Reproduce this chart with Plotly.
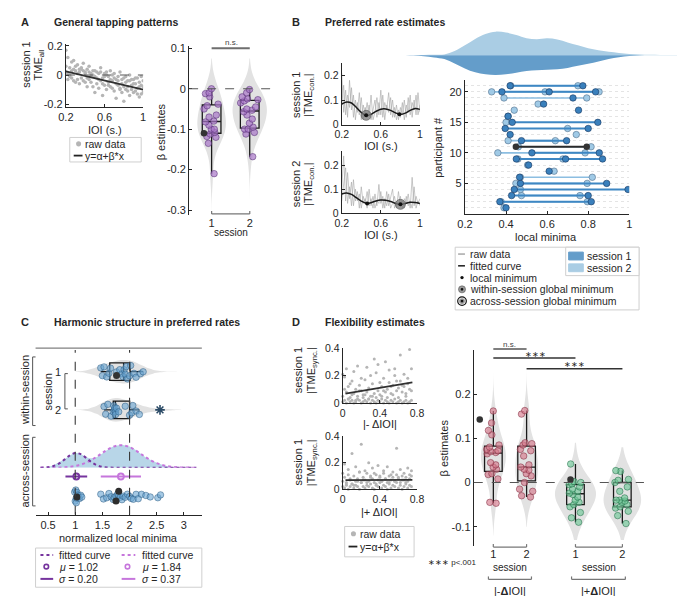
import plotly.graph_objects as go

W, H = 685, 596
TXT = '#262626'
AX = '#262626'
FONT = 'Liberation Sans, Arial, Helvetica, sans-serif'

# ======================= DATA =======================
# ---- Panel A: general tapping patterns ----
A_ioi = [0.20, 0.22, 0.24, 0.26, 0.28, 0.30, 0.32, 0.34, 0.36, 0.38, 0.40, 0.42, 0.44, 0.46,
         0.48, 0.50, 0.52, 0.54, 0.56, 0.58, 0.60, 0.62, 0.64, 0.66, 0.68, 0.70, 0.72, 0.74,
         0.76, 0.78, 0.80, 0.82, 0.84, 0.86, 0.88, 0.90, 0.92, 0.94, 0.96, 0.98, 1.00]
A_tme_1 = [0.06, 0.01, 0.05, -0.02, 0.04, 0.03, -0.03, 0.02, 0.04, -0.04, 0.01, -0.02, 0.02, -0.05,
           0.00, -0.01, -0.06, 0.01, -0.04, -0.02, -0.07, 0.00, -0.05, -0.03, -0.09, -0.02, -0.06,
           -0.04, -0.10, -0.03, -0.08, -0.05, -0.11, -0.04, -0.07, -0.12, -0.06, -0.09, -0.05, -0.13, -0.08]
A_tme_2 = [0.17, -0.03, 0.00, 0.09, -0.04, 0.06, 0.01, -0.06, 0.05, 0.03, -0.05, 0.04, -0.03, 0.01,
           -0.08, 0.03, -0.02, -0.09, 0.02, -0.06, 0.01, -0.10, -0.01, -0.08, 0.00, -0.11, -0.03,
           -0.01, -0.09, -0.12, -0.02, -0.10, -0.04, -0.14, -0.03, -0.06, -0.11, -0.02, -0.15, -0.07, -0.04]
A_tme_3 = [0.02, 0.12, -0.01, 0.03, 0.10, -0.05, 0.07, 0.04, -0.02, 0.08, 0.02, -0.08, 0.06, -0.01,
           0.03, -0.12, 0.02, -0.03, 0.05, -0.14, -0.01, 0.02, -0.07, 0.03, -0.04, 0.01, -0.16,
           -0.07, 0.02, -0.06, -0.18, -0.01, -0.08, 0.00, -0.10, -0.03, -0.02, -0.13, -0.08, -0.01, -0.12]
A_fit_x = [0.2, 1.0]
A_fit_y = [0.025, -0.10]
A_beta_s1 = [0.0, -0.01, -0.012, -0.02, -0.038, -0.042, -0.05, -0.07, -0.08, -0.082, -0.09, -0.1,
             -0.1, -0.108, -0.112, -0.118, -0.12, -0.135, -0.21, -0.065]
A_beta_s2 = [-0.002, -0.01, -0.02, -0.025, -0.027, -0.03, -0.035, -0.045, -0.05, -0.053, -0.057,
             -0.065, -0.075, -0.085, -0.095, -0.1, -0.1, -0.108, -0.112, -0.168]
A_beta_example = [-0.11]

# ---- Panel B: preferred rate estimates ----
B_ioi = A_ioi
B_raw_s1a = [0.21, 0.05, 0.14, 0.03, 0.18, 0.06, 0.12, 0.02, 0.09, 0.04, 0.11, 0.02, 0.07, 0.03, 0.08,
             0.02, 0.06, 0.10, 0.03, 0.09, 0.04, 0.12, 0.02, 0.08, 0.05, 0.11, 0.03, 0.07, 0.02, 0.06,
             0.03, 0.09, 0.02, 0.08, 0.05, 0.12, 0.03, 0.10, 0.04, 0.13, 0.05]
B_raw_s1b = [0.08, 0.16, 0.04, 0.12, 0.07, 0.15, 0.03, 0.10, 0.05, 0.13, 0.02, 0.08, 0.04, 0.09, 0.03,
             0.12, 0.02, 0.05, 0.11, 0.04, 0.14, 0.03, 0.09, 0.06, 0.13, 0.04, 0.10, 0.03, 0.08, 0.02,
             0.07, 0.04, 0.10, 0.03, 0.11, 0.04, 0.09, 0.06, 0.12, 0.04, 0.08]
B_raw_s2a = [0.10, 0.24, 0.05, 0.17, 0.06, 0.13, 0.03, 0.10, 0.05, 0.08, 0.02, 0.07, 0.04, 0.09, 0.03,
             0.06, 0.02, 0.08, 0.03, 0.12, 0.04, 0.07, 0.02, 0.09, 0.03, 0.06, 0.10, 0.02, 0.05, 0.03,
             0.07, 0.02, 0.06, 0.04, 0.08, 0.02, 0.15, 0.03, 0.07, 0.04, 0.06]
B_raw_s2b = [0.05, 0.12, 0.19, 0.04, 0.11, 0.03, 0.14, 0.05, 0.09, 0.02, 0.11, 0.04, 0.06, 0.02, 0.10,
             0.03, 0.07, 0.02, 0.05, 0.04, 0.09, 0.02, 0.06, 0.03, 0.08, 0.02, 0.04, 0.07, 0.02, 0.09,
             0.03, 0.05, 0.02, 0.07, 0.03, 0.05, 0.02, 0.11, 0.02, 0.05, 0.03]
B_fit_ioi = [0.2, 0.25, 0.3, 0.35, 0.4, 0.45, 0.5, 0.55, 0.6, 0.65, 0.7, 0.75, 0.8, 0.85, 0.9, 0.95, 1.0]
B_fit_s1 = [0.083, 0.092, 0.088, 0.070, 0.050, 0.038, 0.042, 0.054, 0.063, 0.064, 0.058, 0.048,
            0.042, 0.047, 0.058, 0.066, 0.062]
B_fit_s2 = [0.080, 0.084, 0.078, 0.064, 0.050, 0.041, 0.043, 0.050, 0.054, 0.053, 0.048, 0.040,
            0.036, 0.040, 0.045, 0.044, 0.040]
B_s1_local_min = ([0.79], [0.042])
B_s1_global_min = ([0.45], [0.038])
B_s2_local_min = ([0.46], [0.040])
B_s2_global_min = ([0.80], [0.036])

# local minima per participant (index 0 = participant 1)
B_minima_s1 = [[0.40], [0.37, 0.815], [0.427, 0.80], [0.44, 0.994], [0.47, 0.89], [0.466], [0.61],
               [0.51], [0.45, 0.69, 0.87], [0.526, 0.854], [0.448, 0.793], [0.475, 0.695], [0.42],
               [0.396, 0.80], [0.43, 0.847], [0.41], [0.753], [0.583], [0.726], [0.38, 0.61, 0.836],
               [0.42, 0.774]]
B_minima_s2 = [[0.39], [0.376, 0.796], [0.475, 0.76], [0.47], [0.448, 0.795], [0.47, 0.82], [0.634],
               [0.505], [0.458, 0.677], [0.36, 0.785], [0.46, 0.814], [0.41, 0.64], [0.742], [0.70],
               [0.40], [0.41], [0.44], [0.556], [0.39, 0.793], [0.33, 0.59, 0.853], [0.423, 0.75]]
B_example_participant = 11
B_dens_x = [-0.09, -0.05, 0.0, 0.05, 0.1, 0.15, 0.2, 0.25, 0.3, 0.35, 0.4, 0.45, 0.5, 0.55, 0.6, 0.65,
            0.7, 0.75, 0.8, 0.85, 0.9, 0.95, 1.0, 1.05, 1.1, 1.15, 1.2, 1.276]
B_dens_s2 = [0, 0, 0.2, 0.4, 0.7, 4.2, 10, 16.5, 21.5, 24, 23, 20.5, 17.3, 16.3, 17.2, 16, 13, 10, 7,
             5, 3.4, 2.3, 1.2, 0.6, 0.3, 0.15, 0.08, 0]
B_dens_s1 = [0, 0.4, 1.2, 2.3, 4, 8.5, 13.5, 17.5, 19.6, 20.3, 19.5, 18, 16.2, 15.4, 15, 14.5, 13,
             10.8, 8.8, 6.5, 4, 2.2, 0.9, 0.4, 0.2, 0.1, 0.05, 0]

# ---- Panel C: harmonic structure ----
C_s1 = [1.47, 1.50, 1.53, 1.58, 1.62, 1.65, 1.76, 1.82, 1.86, 1.88, 1.90, 1.92, 1.94, 1.96, 2.00,
        2.02, 2.08, 2.12, 2.20, 2.25]
C_s2 = [1.53, 1.56, 1.60, 1.66, 1.70, 1.71, 1.72, 1.73, 1.74, 1.74, 1.76, 1.80, 1.92, 2.00, 2.04,
        2.06, 2.12, 2.18]
C_s2_outlier = [2.56]
C_s1_example = [1.76]
C_all = [0.99, 1.0, 1.01, 1.02, 1.02, 1.03, 1.04, 1.05, 1.06, 1.08, 1.10, 1.12, 1.47, 1.52, 1.58,
         1.62, 1.66, 1.70, 1.72, 1.75, 1.78, 1.80, 1.83, 1.86, 1.88, 1.92, 1.96, 2.0, 2.03, 2.07,
         2.12, 2.16, 2.22, 2.3, 2.38, 2.52, 2.57]
C_all_example = [1.03, 1.80, 1.75]
C_mu = [1.02, 1.84]
C_sigma = [0.20, 0.37]
C_curve_x = [0.36, 0.5, 0.6, 0.7, 0.8, 0.9, 1.0, 1.1, 1.2, 1.3, 1.4, 1.5, 1.6, 1.7, 1.8, 1.9, 2.0,
             2.1, 2.2, 2.3, 2.4, 2.5, 2.6, 2.7, 2.8, 2.9, 3.0, 3.1, 3.23]
C_curve_1 = [0, 0.5, 1.7, 4.2, 8.2, 12.5, 15, 13.8, 10, 5.6, 2.5, 0.8, 0.2, 0, 0, 0, 0, 0, 0, 0, 0,
             0, 0, 0, 0, 0, 0, 0, 0]
C_curve_2 = [0, 0.03, 0.1, 0.2, 0.44, 0.9, 1.7, 3.1, 5.1, 7.9, 11.3, 15.1, 18.6, 21.4, 22.9, 22.7,
             21, 18, 14.3, 10.6, 7.3, 4.7, 2.8, 1.5, 0.8, 0.4, 0.17, 0.07, 0.02]
C_density = [0, 0.5, 2.5, 5.5, 8.5, 12.5, 15, 14, 11, 9.5, 11, 14.5, 18.5, 21.5, 23, 23, 21.5, 18.5,
             14.5, 10.5, 7.5, 5, 3, 1.5, 0.5, 0.2, 0, 0, 0]
C_ref_lines = [1, 2]

# ---- Panel D: flexibility estimates ----
D_dioi = [0.00, 0.02, 0.04, 0.06, 0.08, 0.10, 0.12, 0.14, 0.16, 0.18, 0.20, 0.22, 0.24, 0.26, 0.28,
          0.30, 0.32, 0.34, 0.36, 0.38, 0.40, 0.42, 0.44, 0.46, 0.48, 0.50, 0.52, 0.54, 0.56, 0.58,
          0.60, 0.62, 0.64, 0.66, 0.68, 0.70, 0.72, 0.74]
D_neg_tme_a = [0.01, 0.02, 0.00, 0.03, 0.01, 0.02, 0.00, 0.01, 0.03, 0.02, 0.00, 0.01, 0.02, 0.01, 0.03,
               0.00, 0.02, 0.01, 0.00, 0.02, 0.01, 0.03, 0.00, 0.02, 0.01, 0.00, 0.02, 0.01, 0.03, 0.00,
               0.01, 0.02, 0.00, 0.01, 0.02, 0.00, 0.01, 0.02]
D_neg_tme_b = [0.05, 0.19, 0.08, 0.12, 0.04, 0.16, 0.07, 0.10, 0.05, 0.13, 0.09, 0.06, 0.17, 0.08, 0.11,
               0.05, 0.14, 0.07, 0.22, 0.09, 0.06, 0.12, 0.18, 0.08, 0.10, 0.15, 0.07, 0.13, 0.20, 0.09,
               0.11, 0.16, 0.08, 0.12, 0.07, 0.14, 0.10, 0.09]
D_neg_tme_c = [0.21, 0.10, 0.25, 0.03, 0.14, 0.06, 0.23, 0.02, 0.27, 0.09, 0.18, 0.04, 0.06, 0.26, 0.03,
               0.20, 0.05, 0.32, 0.04, 0.28, 0.15, 0.05, 0.09, 0.30, 0.04, 0.24, 0.12, 0.06, 0.25, 0.16,
               0.04, 0.35, 0.13, 0.21, 0.05, 0.18, 0.39, 0.25]
D_pos_tme_a = [0.02, 0.01, 0.03, 0.00, 0.02, 0.04, 0.01, 0.03, 0.02, 0.00, 0.05, 0.02, 0.01, 0.03, 0.02,
               0.04, 0.01, 0.00, 0.03, 0.02, 0.05, 0.01, 0.03, 0.02, 0.00, 0.04, 0.01, 0.03, 0.02, 0.05,
               0.01, 0.03, 0.00, 0.02, 0.04, 0.01, 0.03, 0.02]
D_pos_tme_b = [0.06, 0.09, 0.05, 0.11, 0.07, 0.04, 0.10, 0.06, 0.08, 0.13, 0.05, 0.09, 0.07, 0.12, 0.06,
               0.10, 0.08, 0.05, 0.11, 0.07, 0.09, 0.06, 0.12, 0.08, 0.05, 0.10, 0.07, 0.09, 0.06, 0.11,
               0.08, 0.05, 0.10, 0.07, 0.09, 0.06, 0.08, 0.10]
D_pos_tme_c = [0.12, 0.19, 0.04, 0.15, 0.08, 0.27, 0.03, 0.17, 0.06, 0.13, 0.34, 0.07, 0.14, 0.05, 0.20,
               0.09, 0.16, 0.12, 0.04, 0.18, 0.10, 0.06, 0.14, 0.08, 0.17, 0.05, 0.11, 0.13, 0.06, 0.31,
               0.09, 0.15, 0.07, 0.12, 0.05, 0.16, 0.11, 0.14]
D_fit_x = [0.03, 0.75]
D_neg_fit = [0.069, 0.150]
D_pos_fit = [0.069, 0.071]
D_beta_neg_s1 = [-0.047, -0.045, 0.008, 0.018, 0.02, 0.03, 0.035, 0.04, 0.045, 0.065, 0.068, 0.07,
                 0.072, 0.075, 0.08, 0.085, 0.108, 0.118, 0.135, 0.162]
D_beta_neg_s2 = [-0.033, -0.03, -0.02, -0.015, 0.0, 0.015, 0.02, 0.028, 0.03, 0.035, 0.04, 0.06, 0.072,
                 0.075, 0.085, 0.088, 0.09, 0.155, 0.163]
D_beta_pos_s1 = [-0.09, -0.08, -0.068, -0.055, -0.05, -0.045, -0.04, -0.033, -0.027, -0.024, -0.02,
                 -0.015, -0.01, -0.005, -0.003, 0.0, 0.002, 0.042]
D_beta_pos_s2 = [-0.093, -0.075, -0.065, -0.058, -0.055, -0.05, -0.045, -0.042, -0.04, -0.04, -0.035,
                 -0.02, -0.01, 0.0, 0.005, 0.007, 0.025, 0.027]
D_beta_example = [0.143, 0.007]

# ======================= HELPERS =======================
def px(x):
    return x / W


def py(y):
    return 1 - y / H


fig = go.Figure()
axes = {}


def add_axes(n, xdom, ydom, xr, yr, xkw=None, ykw=None, fs=11):
    xk = 'xaxis' if n == 1 else f'xaxis{n}'
    yk = 'yaxis' if n == 1 else f'yaxis{n}'
    xid = 'x' if n == 1 else f'x{n}'
    yid = 'y' if n == 1 else f'y{n}'
    base = dict(type='linear', showline=True, linecolor=AX, linewidth=1, ticks='inside', ticklen=3,
                tickwidth=1, tickcolor=AX, tickfont=dict(size=fs, color=TXT, family=FONT),
                showgrid=False, zeroline=False, fixedrange=True)
    xd = dict(base, domain=[px(xdom[0]), px(xdom[1])], range=xr, anchor=yid)
    yd = dict(base, domain=[py(ydom[1]), py(ydom[0])], range=yr, anchor=xid)
    if xkw:
        xd.update(xkw)
    if ykw:
        yd.update(ykw)
    axes[xk] = xd
    axes[yk] = yd


def T(x, y, text, size=11, bold=False, angle=0, xa='center', ya='middle', color=TXT):
    fig.add_annotation(x=px(x), y=py(y), xref='paper', yref='paper',
                       text=f'<b>{text}</b>' if bold else text, showarrow=False,
                       font=dict(size=size, color=color, family=FONT), textangle=angle,
                       xanchor=xa, yanchor=ya, borderpad=0)


def L(x0, y0, x1, y1, color=AX, width=1, dash=None):
    fig.add_shape(type='line', xref='paper', yref='paper', x0=px(x0), y0=py(y0), x1=px(x1),
                  y1=py(y1), line=dict(color=color, width=width, dash=dash))


def R(x0, y0, x1, y1, line='#cfcfcf', fill='white', width=1):
    fig.add_shape(type='rect', xref='paper', yref='paper', x0=px(x0), y0=py(y1), x1=px(x1),
                  y1=py(y0), line=dict(color=line, width=width), fillcolor=fill)


def CIR(cx, cy, r, fill, line=None, width=1):
    fig.add_shape(type='circle', xref='paper', yref='paper', x0=px(cx - r), x1=px(cx + r),
                  y0=py(cy + r), y1=py(cy - r), fillcolor=fill,
                  line=dict(color=line or fill, width=width if line else 0))


def bracket(x0, x1, y, up=3, color='#777777'):
    L(x0, y, x1, y, color, 1.2)
    L(x0, y, x0, y - up, color, 1.2)
    L(x1, y, x1, y - up, color, 1.2)


LEG = 10.5  # legend font size

# ======================= AXES =======================
add_axes(1, (51, 130), (31, 95), [0.2, 1.0], [-0.22, 0.21],
         dict(tickvals=[0.2, 0.6, 1.0], ticktext=['0.2', '0.6', '1']),
         dict(tickvals=[-0.2, 0, 0.2], ticktext=['-0.2', '0', '0.2']))
add_axes(2, (177, 260), (33, 205), [0.41, 2.54], [-0.312, 0.105],
         dict(showline=False, ticks='', tickvals=[1, 2], ticktext=['1', '2']),
         dict(tickvals=[-0.3, -0.2, -0.1, 0, 0.1], ticktext=['-0.3', '-0.2', '-0.1', '0', '0.1']))
add_axes(3, (333, 413), (50, 113), [0.2, 1.0], [0, 0.25],
         dict(tickvals=[0.2, 0.6, 1.0], ticktext=['0.2', '0.6', '1']),
         dict(tickvals=[0, 0.1, 0.2], ticktext=['0', '0.1', '0.2']), fs=10.5)
add_axes(4, (333, 413), (140, 203), [0.2, 1.0], [0, 0.26],
         dict(tickvals=[0.2, 0.6, 1.0], ticktext=['0.2', '0.6', '1']),
         dict(tickvals=[0, 0.1, 0.2], ticktext=['0', '0.1', '0.2']), fs=10.5)
add_axes(5, (459, 627), (67, 204), [0.2, 1.0], [0, 22],
         dict(tickvals=[0.2, 0.4, 0.6, 0.8, 1.0], ticktext=['0.2', '0.4', '0.6', '0.8', '1']),
         dict(tickvals=[5, 10, 15, 20], showgrid=True, gridcolor='#e4e4e4', griddash='dot',
              minor=dict(dtick=1, tick0=0, showgrid=True, gridcolor='#e4e4e4', griddash='dot', ticks='')))
add_axes(6, (398, 685), (15, 69), [-0.09, 1.276], [-27, 27],
         dict(visible=False), dict(visible=False))
add_axes(7, (20, 190), (341, 511), [0.27, 3.33], [0, 170],
         dict(tickvals=[0.5, 1, 1.5, 2, 2.5, 3], ticktext=['0.5', '1', '1.5', '2', '2.5', '3']),
         dict(visible=False))
add_axes(8, (20, 190), (437, 463), [0.27, 3.33], [0, 26],
         dict(visible=False), dict(visible=False))
add_axes(9, (334, 410), (341, 397), [0, 0.8], [0, 0.4],
         dict(tickvals=[0, 0.4, 0.8], ticktext=['0', '0.4', '0.8']),
         dict(tickvals=[0, 0.2, 0.4], ticktext=['0', '0.2', '0.4']), fs=10.5)
add_axes(10, (334, 410), (431, 485), [0, 0.8], [0, 0.4],
         dict(tickvals=[0, 0.4, 0.8], ticktext=['0', '0.4', '0.8']),
         dict(tickvals=[0, 0.2, 0.4], ticktext=['0', '0.2', '0.4']), fs=10.5)
add_axes(11, (468, 642), (343, 543), [0.41, 5.53], [-0.144, 0.3],
         dict(showline=False, ticks='', tickvals=[1, 2, 3.47, 4.88], ticktext=['1', '2', '1', '2']),
         dict(tickvals=[-0.1, 0, 0.1, 0.2], ticktext=['-0.1', '0', '0.1', '0.2']))

RAW = '#b5b5b5'
VIO = '#e2e2e2'

# ======================= PANEL A =======================
for ys in (A_tme_1, A_tme_2, A_tme_3):
    fig.add_trace(go.Scatter(x=A_ioi, y=ys, mode='markers', xaxis='x', yaxis='y',
                             marker=dict(size=3.5, color=RAW), hoverinfo='skip'))
fig.add_trace(go.Scatter(x=A_fit_x, y=A_fit_y, mode='lines', xaxis='x', yaxis='y',
                         line=dict(color='#303030', width=1.8)))

PURP = 'rgba(168,118,200,0.7)'
PURP_L = 'rgba(80,40,110,0.85)'
for pos, vals, wv, span in ((1, A_beta_s1, 0.75, [-0.30, 0.075]), (2, A_beta_s2, 0.9, [-0.30, 0.075])):
    fig.add_trace(go.Violin(x=[pos] * len(vals), y=vals, xaxis='x2', yaxis='y2', width=wv,
                            line=dict(width=0), fillcolor=VIO, points=False, bandwidth=0.035,
                            spanmode='manual', span=span, hoverinfo='skip'))
for pos, vals in ((1, A_beta_s1), (2, A_beta_s2)):
    fig.add_trace(go.Box(x=[pos] * len(vals), y=vals, xaxis='x2', yaxis='y2', orientation='v',
                         width=0.49, boxpoints='all', jitter=1, pointpos=0, whiskerwidth=0,
                         fillcolor='rgba(0,0,0,0)', line=dict(color='#1a1a1a', width=1.3),
                         marker=dict(size=6.5, color=PURP, line=dict(color=PURP_L, width=0.6))))
fig.add_trace(go.Scatter(x=[0.8], y=A_beta_example, mode='markers', xaxis='x2', yaxis='y2',
                         marker=dict(size=6.5, color='#333333')))

# ======================= PANEL B =======================
for axn, raws, fit, lmin, gmin in ((3, (B_raw_s1a, B_raw_s1b), B_fit_s1, B_s1_local_min, B_s1_global_min),
                                   (4, (B_raw_s2a, B_raw_s2b), B_fit_s2, B_s2_local_min, B_s2_global_min)):
    for r in raws:
        fig.add_trace(go.Scatter(x=B_ioi, y=r, mode='lines', xaxis=f'x{axn}', yaxis=f'y{axn}',
                                 line=dict(color='rgba(165,165,165,0.75)', width=0.8), hoverinfo='skip'))
    fig.add_trace(go.Scatter(x=B_fit_ioi, y=fit, mode='lines', xaxis=f'x{axn}', yaxis=f'y{axn}',
                             line=dict(color='#1a1a1a', width=1.5, shape='spline')))
    fig.add_trace(go.Scatter(x=gmin[0], y=gmin[1], mode='markers', xaxis=f'x{axn}', yaxis=f'y{axn}',
                             marker=dict(size=10, color='rgba(120,120,120,0.75)',
                                         line=dict(color='#555555', width=0.6))))
    for pts in (lmin, gmin):
        fig.add_trace(go.Scatter(x=pts[0], y=pts[1], mode='markers', xaxis=f'x{axn}', yaxis=f'y{axn}',
                                 marker=dict(size=4, color='#111111')))

# participant dumbbells
S1_COL = 'rgb(58,128,188)'
S2_COL = 'rgb(160,202,230)'


def rows(minima, skip=None):
    xs, ys = [], []
    for i, m in enumerate(minima):
        if skip is not None and i + 1 == skip:
            continue
        for v in sorted(m):
            xs.append(v)
            ys.append(i + 1)
        xs.append(None)
        ys.append(None)
    return xs, ys


x2s, y2s = rows(B_minima_s2)
fig.add_trace(go.Scatter(x=x2s, y=y2s, mode='lines+markers', xaxis='x5', yaxis='y5',
                         line=dict(color='rgb(140,190,225)', width=1.6), connectgaps=False,
                         marker=dict(size=6.5, color=S2_COL, line=dict(color='rgb(80,110,140)', width=0.6))))
x1s, y1s = rows(B_minima_s1, skip=B_example_participant)
fig.add_trace(go.Scatter(x=x1s, y=y1s, mode='lines+markers', xaxis='x5', yaxis='y5',
                         line=dict(color='rgb(62,135,195)', width=2), connectgaps=False,
                         marker=dict(size=6.5, color=S1_COL, line=dict(color='rgb(25,55,95)', width=0.6))))
ex = sorted(B_minima_s1[B_example_participant - 1])
fig.add_trace(go.Scatter(x=ex, y=[B_example_participant] * len(ex), mode='lines+markers',
                         xaxis='x5', yaxis='y5', line=dict(color='#2b2b2b', width=2),
                         marker=dict(size=6.5, color='#333333')))

# density on top
fig.add_trace(go.Scatter(x=B_dens_x, y=B_dens_s2, mode='lines', fill='tozeroy', xaxis='x6', yaxis='y6',
                         line=dict(width=0, shape='spline'), fillcolor='rgb(170,205,228)', hoverinfo='skip'))
fig.add_trace(go.Scatter(x=B_dens_x, y=[-h for h in B_dens_s1], mode='lines', fill='tozeroy',
                         xaxis='x6', yaxis='y6', line=dict(width=0, shape='spline'),
                         fillcolor='rgb(100,157,202)', hoverinfo='skip'))

# ======================= PANEL C =======================
CBLUE = 'rgba(105,165,210,0.6)'
CBLUE_L = 'rgba(35,85,125,0.8)'
for ypos, vals in ((146, C_s1), (107, C_s2 + C_s2_outlier)):
    fig.add_trace(go.Violin(x=vals, y=[ypos] * len(vals), orientation='h', xaxis='x7', yaxis='y7',
                            width=24, line=dict(width=0), fillcolor=VIO, points=False,
                            bandwidth=0.2, spanmode='manual', span=[1.0, 2.95], hoverinfo='skip'))
for ypos, vals in ((146, C_s1), (107, C_s2)):
    fig.add_trace(go.Box(x=vals, y=[ypos] * len(vals), orientation='h', xaxis='x7', yaxis='y7',
                         width=18, boxpoints='all', jitter=0.9, pointpos=0, whiskerwidth=0,
                         fillcolor='rgba(0,0,0,0)', line=dict(color='#1a1a1a', width=1.3),
                         marker=dict(size=6.5, color=CBLUE, line=dict(color=CBLUE_L, width=0.6))))
fig.add_trace(go.Scatter(x=C_s2_outlier, y=[107], mode='markers', xaxis='x7', yaxis='y7',
                         marker=dict(symbol='asterisk-open', size=8, color='#2a4a66', line=dict(width=1.6))))
fig.add_trace(go.Scatter(x=C_s1_example, y=[142], mode='markers', xaxis='x7', yaxis='y7',
                         marker=dict(size=7, color='#333333')))
# across-session points
fig.add_trace(go.Box(x=C_all, y=[19] * len(C_all), orientation='h', xaxis='x7', yaxis='y7', width=16,
                     boxpoints='all', jitter=1, pointpos=0, fillcolor='rgba(0,0,0,0)',
                     line=dict(width=0, color='rgba(0,0,0,0)'),
                     marker=dict(size=6.5, color=CBLUE, line=dict(color=CBLUE_L, width=0.6))))
fig.add_trace(go.Scatter(x=C_all_example, y=[18, 24, 14], mode='markers', xaxis='x7', yaxis='y7',
                         marker=dict(size=7, color='#2d2d2d')))
DPUR = 'rgb(118,52,158)'
LPUR = 'rgb(198,118,220)'
for i, col in enumerate((DPUR, LPUR)):
    fig.add_trace(go.Scatter(x=[C_mu[i]], y=[39], mode='markers', xaxis='x7', yaxis='y7',
                             marker=dict(symbol='circle-open', size=6, color=col, line=dict(width=1.8)),
                             error_x=dict(type='data', array=[C_sigma[i]], color=col, thickness=2, width=0)))
# across-session density + fitted curves
fig.add_trace(go.Scatter(x=C_curve_x, y=C_density, mode='lines', fill='tozeroy', xaxis='x8', yaxis='y8',
                         line=dict(width=0, shape='spline'), fillcolor='rgb(184,214,232)', hoverinfo='skip'))
fig.add_trace(go.Scatter(x=C_curve_x, y=C_curve_2, mode='lines', xaxis='x8', yaxis='y8',
                         line=dict(color=LPUR, width=2, dash='dot', shape='spline')))
fig.add_trace(go.Scatter(x=C_curve_x, y=C_curve_1, mode='lines', xaxis='x8', yaxis='y8',
                         line=dict(color=DPUR, width=2, dash='dot', shape='spline')))

for v in C_ref_lines:
    fig.add_shape(type='line', xref='x7', yref='y7', x0=v, x1=v, y0=0, y1=168,
                  line=dict(color='#3a3a3a', width=1.1, dash='dash'))

# ======================= PANEL D =======================
for axn, ylists, fit in ((9, (D_neg_tme_a, D_neg_tme_b, D_neg_tme_c), D_neg_fit),
                         (10, (D_pos_tme_a, D_pos_tme_b, D_pos_tme_c), D_pos_fit)):
    for ys in ylists:
        fig.add_trace(go.Scatter(x=D_dioi, y=ys, mode='markers', xaxis=f'x{axn}', yaxis=f'y{axn}',
                                 marker=dict(size=3, color=RAW), cliponaxis=False, hoverinfo='skip'))
    fig.add_trace(go.Scatter(x=D_fit_x, y=fit, mode='lines', xaxis=f'x{axn}', yaxis=f'y{axn}',
                             line=dict(color='#303030', width=1.8)))

PINK = 'rgba(214,122,140,0.65)'
PINK_L = 'rgba(120,35,55,0.85)'
GRN = 'rgba(112,200,152,0.65)'
GRN_L = 'rgba(25,105,65,0.85)'
D_groups = ((1, D_beta_neg_s1, 0.75, [-0.12, 0.27], PINK, PINK_L),
            (2, D_beta_neg_s2, 0.68, [-0.10, 0.27], PINK, PINK_L),
            (3.47, D_beta_pos_s1, 1.23, [-0.13, 0.09], GRN, GRN_L),
            (4.88, D_beta_pos_s2, 1.13, [-0.13, 0.08], GRN, GRN_L))
for pos, vals, wv, span, c, cl in D_groups:
    fig.add_trace(go.Violin(x=[pos] * len(vals), y=vals, xaxis='x11', yaxis='y11', width=wv,
                            line=dict(width=0), fillcolor=VIO, points=False, bandwidth=0.03,
                            spanmode='manual', span=span, hoverinfo='skip'))
for pos, vals, wv, span, c, cl in D_groups:
    fig.add_trace(go.Box(x=[pos] * len(vals), y=vals, xaxis='x11', yaxis='y11', orientation='v',
                         width=0.53, boxpoints='all', jitter=1, pointpos=0, whiskerwidth=0,
                         fillcolor='rgba(0,0,0,0)', line=dict(color='#1a1a1a', width=1.3),
                         marker=dict(size=6.5, color=c, line=dict(color=cl, width=0.6))))
fig.add_trace(go.Scatter(x=[0.59, 3.32], y=D_beta_example, mode='markers', xaxis='x11', yaxis='y11',
                         marker=dict(size=6.5, color='#333333')))

# zero reference lines
fig.add_shape(type='line', xref='x domain', yref='y', x0=0, x1=1, y0=0, y1=0,
              line=dict(color='#555555', width=1, dash='dash'))
fig.add_shape(type='line', xref='x2 domain', yref='y2', x0=0, x1=1, y0=0, y1=0,
              line=dict(color='#555555', width=1.1, dash='dash'))
fig.add_shape(type='line', xref='x11 domain', yref='y11', x0=0, x1=1, y0=0, y1=0,
              line=dict(color='#555555', width=1.1, dash='dash'))

# ======================= TEXT & DECORATION =======================
# titles
T(4, 8, 'A', 11, True, xa='left')
T(38, 8, 'General tapping patterns', 10.5, True, xa='left')
T(281, 8, 'B', 11, True, xa='left')
T(315, 8, 'Preferred rate estimates', 10.5, True, xa='left')
T(4, 314, 'C', 11, True, xa='left')
T(38, 314, 'Harmonic structure in preferred rates', 10.5, True, xa='left')
T(281, 314, 'D', 11, True, xa='left')
T(315, 314, 'Flexibility estimates', 10.5, True, xa='left')

# Panel A labels
T(10, 52, 'session 1', 11, angle=-90)
T(23, 52, 'TME<sub>all</sub>', 11, angle=-90)
T(91, 118, 'IOI (s.)', 11)
T(148, 120, 'β estimates', 11, angle=-90)
T(220, 223, 'session', 10)
bracket(200, 239, 204)
L(200, 35, 239, 35, '#6e6e6e', 2)
T(220, 29, 'n.s.', 8, color='#444444')
R(55, 126, 128, 151)
CIR(64, 132.5, 2.6, '#b5b5b5')
T(70, 132.5, 'raw data', LEG, xa='left')
L(59, 144.5, 68, 144.5, '#222222', 1.8)
T(70, 145, 'y=α+β*x', LEG, xa='left')

# Panel B labels
T(287, 83, 'session 1', 11, angle=-90)
T(300, 83, '|TME<sub>con.</sub>|', 11, angle=-90)
T(287, 174, 'session 2', 11, angle=-90)
T(300, 174, '|TME<sub>con.</sub>|', 11, angle=-90)
T(373, 135, 'IOI (s.)', 11)
T(373, 226, 'IOI (s.)', 11)
T(432, 136, 'participant #', 11, angle=-90)
T(542, 228, 'local minima', 11)
R(449, 238, 637, 302)
R(562, 238, 637, 267)
L(452, 245, 459, 245, '#a8a8a8', 1.5)
T(463, 245, 'raw data', LEG, xa='left')
L(452, 257, 459, 257, '#1a1a1a', 1.5)
T(463, 257, 'fitted curve', LEG, xa='left')
CIR(456, 269, 1.7, '#111111')
T(463, 269, 'local minimum', LEG, xa='left')
CIR(456, 281, 3.6, '#9a9a9a', '#555555', 0.6)
CIR(456, 281, 1.4, '#111111')
T(463, 281, 'within-session global minimum', LEG, xa='left')
CIR(456, 293, 4.4, 'white', '#111111', 1.2)
CIR(456, 293, 3.0, '#9a9a9a')
CIR(456, 293, 1.4, '#111111')
T(463, 293, 'across-session global minimum', LEG, xa='left')
R(565, 243, 580, 251, 'rgb(100,157,202)', 'rgb(100,157,202)')
T(583, 247, 'session 1', LEG, xa='left')
R(565, 255, 580, 263, 'rgb(170,205,228)', 'rgb(170,205,228)')
T(583, 259, 'session 2', LEG, xa='left')

# Panel C labels
L(20, 341, 190, 341, '#808080', 1.2)
T(9, 384, 'within-session', 11, angle=-90)
T(9, 466, 'across-session', 11, angle=-90)
L(17, 350, 17, 420, '#555555', 1)
L(17, 350, 20, 350, '#555555', 1)
L(17, 420, 20, 420, '#555555', 1)
L(17, 432, 17, 502, '#555555', 1)
L(17, 432, 20, 432, '#555555', 1)
L(17, 502, 20, 502, '#555555', 1)
T(33, 386, 'session', 11, angle=-90)
T(43, 365, '1', 11)
T(43, 404, '2', 11)
L(50, 367, 50, 403, '#555555', 1)
L(50, 367, 53, 367, '#555555', 1)
L(50, 403, 53, 403, '#555555', 1)
T(105, 535, 'normalized local minima', 11)
R(20, 545, 190, 585)
L(25, 552, 38, 552, DPUR, 2, 'dot')
T(43, 552, 'fitted curve', LEG, xa='left')
CIR(31, 564, 2.3, 'white', DPUR, 1.6)
T(43, 564.5, '<i>μ</i> = 1.02', LEG, xa='left')
L(25, 576.5, 38, 576.5, DPUR, 2)
T(43, 577, '<i>σ</i> = 0.20', LEG, xa='left')
L(108, 552, 122, 552, LPUR, 2, 'dot')
T(128, 552, 'fitted curve', LEG, xa='left')
CIR(114, 564, 2.3, 'white', LPUR, 1.6)
T(128, 564.5, '<i>μ</i> = 1.84', LEG, xa='left')
L(108, 576.5, 122, 576.5, LPUR, 2)
T(128, 577, '<i>σ</i> = 0.37', LEG, xa='left')

# Panel D labels
T(288, 364, 'session 1', 11, angle=-90)
T(302, 364, '|TME<sub>sync.</sub>|', 11, angle=-90)
T(288, 458, 'session 1', 11, angle=-90)
T(302, 458, '|TME<sub>sync.</sub>|', 11, angle=-90)
T(372, 418, '|- ΔIOI|', 11)
T(372, 508, '|+ ΔIOI|', 11)
R(336, 523, 407, 554)
CIR(345, 530.5, 2.6, '#b5b5b5')
T(351, 530.5, 'raw data', LEG, xa='left')
L(340, 543.5, 349, 543.5, '#222222', 1.8)
T(351, 544, 'y=α+β*x', LEG, xa='left')
T(420, 560, '∗∗∗ p<.001', 8, xa='left')
T(438, 443, 'β estimates', 11, angle=-90)
# significance bars
L(488, 342, 522, 342, '#555555', 1.5)
T(505, 337, 'n.s.', 8, color='#444444')
L(488, 351, 572, 351, '#333333', 1.5)
T(531, 347, '∗∗∗', 8)
L(522, 362, 620, 362, '#333333', 1.5)
T(571, 357.5, '∗∗∗', 8)
# brackets & group labels
bracket(488, 522, 544)
bracket(572, 620, 544)
T(505, 565, 'session', 10)
T(596, 565, 'session', 10)
bracket(483, 527, 577)
bracket(568, 623, 577)
T(505, 589, '|-<b>Δ</b>IOI|', 11)
T(596, 589, '|+<b>Δ</b>IOI|', 11)

fig.update_layout(**axes)
fig.update_layout(width=W, height=H, autosize=False, margin=dict(l=0, r=0, t=0, b=0),
                  paper_bgcolor='white', plot_bgcolor='rgba(0,0,0,0)', showlegend=False,
                  font=dict(family=FONT, size=11, color=TXT), boxmode='overlay', violinmode='overlay',
                  hovermode=False)

fig.write_html("out.html")
